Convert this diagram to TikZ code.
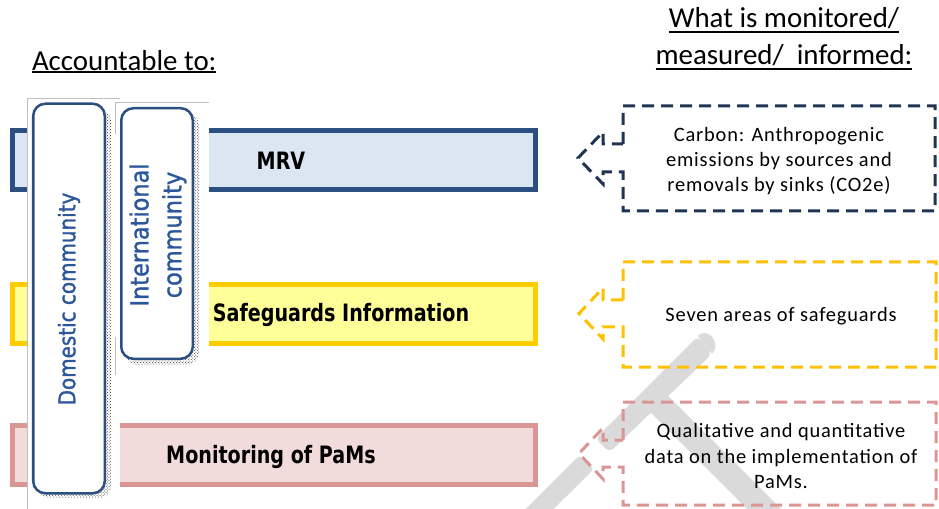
\documentclass[tikz,border=0pt]{standalone}
\usepackage{fontspec}
\setmainfont{Carlito}
\newfontfamily\calfont[LetterSpace=4]{Carlito}
\newfontfamily\barfont[FakeStretch=0.8]{DejaVu Sans}
\newfontfamily\vertfont[FakeStretch=0.87, FakeBold=1.2]{DejaVu Sans}
\newfontfamily\vertfontb[FakeStretch=0.9, FakeBold=1.2]{DejaVu Sans}
\usetikzlibrary{patterns}
\definecolor{mrvline}{HTML}{2B4F81}
\definecolor{mrvfill}{HTML}{DCE6F2}
\definecolor{sgline}{HTML}{FFCC00}
\definecolor{sgfill}{HTML}{FFFF99}
\definecolor{pmline}{HTML}{D99694}
\definecolor{pmfill}{HTML}{F2DCDB}
\definecolor{navy}{HTML}{1F3553}
\definecolor{gold}{HTML}{FFC000}
\definecolor{vblue}{HTML}{2B579A}
\definecolor{wmgray}{HTML}{DADADA}
\definecolor{framegray}{HTML}{C0C0C0}
\newcommand\myul[2]{\setbox0\hbox{#2}\rlap{\rule[-#1]{\wd0}{1.8bp}}\box0}
\tikzset{
  bar/.style={draw, line width=5bp, minimum width=523bp, minimum height=59bp},
  barlabel/.style={font=\barfont\bfseries\fontsize{24}{28}\selectfont, text=black},
  vbox/.style={draw=mrvline, fill=white, line width=2.5bp, rounded corners=12bp, minimum width=71.5bp},
  vtext/.style={text=vblue, rotate=90, align=center},
  heading/.style={font=\fontsize{29}{37}\selectfont, text=black},
  calltext/.style={font=\calfont\fontsize{20.5}{25.5}\selectfont, text=black, align=center},
  callline/.style={line width=3bp, dash pattern=on 12bp off 7bp},
  frameline/.style={draw=framegray, line width=0.8bp},
}
\begin{document}
\begin{tikzpicture}[x=1bp,y=-1bp, every node/.style={inner sep=0pt, outer sep=0pt}]
\useasboundingbox (0,0) rectangle (939,509);
% watermark
\fill[wmgray, rounded corners=6bp] (595.5,438.5) -- (609.5,452.5) -- (712,354) -- (698,336) -- cycle;
\fill[wmgray, rounded corners=4bp] (580,455) -- (594,469) -- (481,581) -- (467,567) -- cycle;
\fill[wmgray, rounded corners=4bp] (643,405) -- (660,388) -- (786,514) -- (769,531) -- cycle;
\fill[wmgray] (698,336) to[out=45,in=45, looseness=1.6] (712,354);
% bars
\node[bar, draw=mrvline, fill=mrvfill] (mrv) at (274,160) {};
\node[bar, draw=sgline, fill=sgfill] (sg) at (274,314) {};
\node[bar, draw=pmline, fill=pmfill] (pm) at (274,454.5) {};
\node[barlabel] (mrvl) at (281,161) {MRV};
\node[barlabel] (sgl) at (341,315) {Safeguards Information};
\node[barlabel] (pml) at (271,457) {Monitoring of PaMs};
% frames
\fill[white] (27,98) rectangle (120,515);
\fill[white] (115,102) rectangle (209,375);
\draw[frameline] (27,515) -- (27,98) -- (120,98);
\draw[frameline] (115,134) -- (115,102) -- (209,102);
\draw[frameline] (115,337) -- (115,375);
% shadows
\fill[pattern=crosshatch dots, pattern color=black!80, rounded corners=12bp] (38,109) rectangle (111,498);
\fill[pattern=crosshatch dots, pattern color=black!80, rounded corners=12bp] (126,113) rectangle (199,365);
% vertical boxes
\node[vbox, minimum height=389.5bp] (dom) at (69,298.5) {};
\node[vbox, minimum height=250.5bp] (intl) at (157,233.5) {};
\node[vtext, font=\vertfont\fontsize{23}{31}\selectfont] (doml) at (69,299) {Domestic community};
\node[vtext, font=\vertfontb\fontsize{25}{33}\selectfont] (intll) at (158,235) {International\\community};
% headings
\node[heading, anchor=base west] (acc) at (32,71) {\myul{2bp}{Accountable to:}};
\node[heading, anchor=base] (wh1) at (784,28) {\myul{5bp}{What is monitored/}};
\node[heading, anchor=base] (wh2) at (784,65) {\myul{5bp}{measured/\ \ informed:}};
% callouts
\draw[callline, navy] (623,144) -- (623,106) -- (935,106) -- (935,211) -- (623,211) -- (623,172) -- (603,172) -- (603,184) -- (578,158) -- (603,132) -- (603,144) -- cycle;
\draw[callline, gold] (623,300) -- (623,262) -- (936,262) -- (936,367) -- (623,367) -- (623,327) -- (603,327) -- (603,339) -- (579,313.5) -- (603,288) -- (603,300) -- cycle;
\draw[callline, pmline] (623,440) -- (623,402) -- (936,402) -- (936,505) -- (623,505) -- (623,467) -- (603,467) -- (603,479) -- (579,453.5) -- (603,428) -- (603,440) -- cycle;
\node[calltext] (c1) at (779,161) {Carbon: Anthropogenic\\emissions by sources and\\removals by sinks (CO2e)};
\node[calltext] (c2) at (781,316) {Seven areas of safeguards};
\node[calltext] (c3) at (781,456) {Qualitative and quantitative\\data on the implementation of\\PaMs.};
\end{tikzpicture}
\end{document}
